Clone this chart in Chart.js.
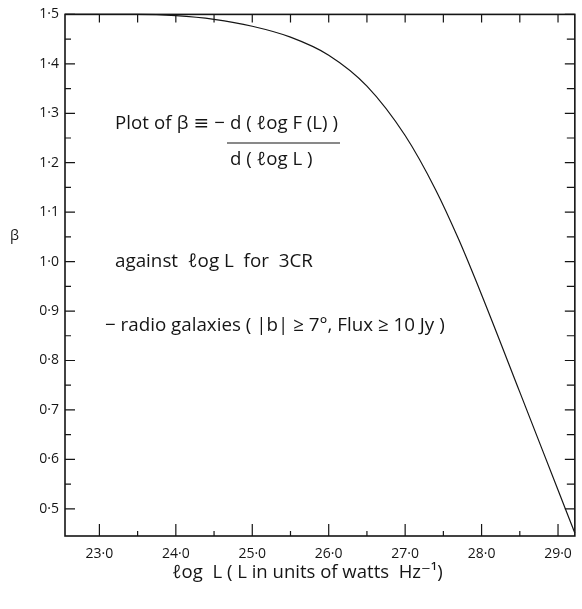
<!DOCTYPE html>
<html><head><meta charset="utf-8">
<script src="https://cdn.jsdelivr.net/npm/chart.js@4/dist/chart.umd.min.js"></script>
<style>html,body{margin:0;padding:0;background:#fff;}canvas{display:block;}</style>
</head><body>
<canvas id="c" width="582" height="609"></canvas>
<script>
// ---- data ----
const logL = [22.55, 23.0, 23.5, 24.0, 24.5, 25.0, 25.5, 26.0, 26.5, 27.0, 27.4, 27.7, 28.0, 28.5, 29.0, 29.22];
const beta = [1.5, 1.5, 1.5, 1.4975, 1.490, 1.476, 1.454, 1.4175, 1.355, 1.255, 1.145, 1.045, 0.933, 0.736, 0.538, 0.451];
const xMajorTicks = [23, 24, 25, 26, 27, 28, 29];
const xMinorTicks = [23.5, 24.5, 25.5, 26.5, 27.5, 28.5];
const xTopTicks = [23, 23.5, 24, 24.5, 25, 25.5, 26, 26.5, 27, 27.5, 28, 28.5, 29];
const yMajorTicks = [0.5, 0.6, 0.7, 0.8, 0.9, 1.0, 1.1, 1.2, 1.3, 1.4, 1.5];
const yMinorTicks = [0.55, 0.65, 0.75, 0.85, 0.95, 1.05, 1.15, 1.25, 1.35, 1.45];
const xRange = [22.55, 29.22];
const yRange = [0.445, 1.5];
const fmt = v => v.toFixed(1).replace('.', '\u00B7');

const FAMILY = '"Open Sans", "DejaVu Sans", sans-serif';
const INK = '#151515';

function fitText(ctx, text, left, cy, width, fixedSize) {
  let size = fixedSize;
  if (!size) {
    ctx.font = '100px ' + FAMILY;
    size = 100 * width / ctx.measureText(text).width;
  }
  ctx.font = size.toFixed(2) + 'px ' + FAMILY;
  ctx.textBaseline = 'middle';
  ctx.textAlign = 'left';
  ctx.fillText(text, left, cy);
  return size;
}
// words spread evenly over [left, right] at a given size
function spreadWords(ctx, words, left, right, cy, size) {
  ctx.font = size.toFixed(2) + 'px ' + FAMILY;
  ctx.textBaseline = 'middle';
  ctx.textAlign = 'left';
  const ws = words.map(w => ctx.measureText(w).width);
  const gap = (right - left - ws.reduce((s, v) => s + v, 0)) / (words.length - 1);
  let px = left;
  words.forEach((w, i) => { ctx.fillText(w, px, cy); px += ws[i] + gap; });
}

const framePlugin = {
  id: 'frame',
  afterDatasetsDraw(chart) {
    const { ctx, chartArea: a, scales: { x, y } } = chart;
    ctx.save();
    ctx.strokeStyle = INK;
    ctx.lineWidth = 1.6;
    ctx.strokeRect(a.left, a.top, a.right - a.left, a.bottom - a.top);
    ctx.lineWidth = 1.2;
    ctx.beginPath();
    xMajorTicks.forEach(v => { const p = x.getPixelForValue(v); ctx.moveTo(p, a.bottom); ctx.lineTo(p, a.bottom - 12); });
    xMinorTicks.forEach(v => { const p = x.getPixelForValue(v); ctx.moveTo(p, a.bottom); ctx.lineTo(p, a.bottom - 5); });
    xTopTicks.forEach(v => { const p = x.getPixelForValue(v); ctx.moveTo(p, a.top); ctx.lineTo(p, a.top + 8); });
    yMajorTicks.forEach(v => { const p = y.getPixelForValue(v); ctx.moveTo(a.left, p); ctx.lineTo(a.left + 10, p);
                                ctx.moveTo(a.right, p); ctx.lineTo(a.right - 10, p); });
    yMinorTicks.forEach(v => { const p = y.getPixelForValue(v); ctx.moveTo(a.left, p); ctx.lineTo(a.left + 6, p);
                                ctx.moveTo(a.right, p); ctx.lineTo(a.right - 8, p); });
    ctx.stroke();

    // annotation texts
    ctx.fillStyle = INK;
    const s2 = fitText(ctx, 'd ( \u2113og F (L) )', 230, 124, 108);
    spreadWords(ctx, ['Plot', 'of', '\u03B2', '\u2261', '\u2212'], 115, 225, 124, s2);
    ctx.lineWidth = 1.2;
    ctx.beginPath(); ctx.moveTo(227, 143); ctx.lineTo(340, 143); ctx.stroke();
    fitText(ctx, 'd ( \u2113og L )', 230, 160, 0, s2);
    fitText(ctx, 'against  \u2113og L  for  3CR', 115, 262, 198);
    fitText(ctx, '\u2212 radio galaxies ( |b| \u2265 7\u00B0, Flux \u2265 10 Jy )', 105, 326, 340);
    fitText(ctx, '\u03B2', 10, 236, 9);
    fitText(ctx, '\u2113og  L ( L in units of watts  Hz\u207B\u00B9)', 172, 573, 271);
    ctx.restore();
  }
};

new Chart(document.getElementById('c'), {
  type: 'scatter',
  data: {
    datasets: [{
      data: logL.map((v, i) => ({ x: v, y: beta[i] })),
      showLine: true,
      borderColor: INK,
      borderWidth: 1.2,
      pointRadius: 0,
      cubicInterpolationMode: 'monotone',
      clip: 4
    }]
  },
  options: {
    responsive: false,
    devicePixelRatio: 1,
    animation: false,
    layout: { padding: { top: 9, right: 4, left: 0, bottom: 0 } },
    plugins: { legend: { display: false }, tooltip: { enabled: false } },
    scales: {
      x: {
        type: 'linear', min: xRange[0], max: xRange[1],
        grid: { display: false, drawTicks: false },
        border: { display: false },
        afterBuildTicks: s => { s.ticks = xMajorTicks.map(value => ({ value })); },
        afterFit: s => { s.height = 73; },
        ticks: { autoSkip: false, maxRotation: 0, padding: 10, color: INK,
                 font: { family: FAMILY, size: 14 }, callback: v => fmt(v) }
      },
      y: {
        type: 'linear', min: yRange[0], max: yRange[1],
        grid: { display: false, drawTicks: false },
        border: { display: false },
        afterBuildTicks: s => { s.ticks = yMajorTicks.map(value => ({ value })); },
        afterFit: s => { s.width = 65; },
        ticks: { autoSkip: false, padding: 6, color: INK,
                 font: { family: FAMILY, size: 14 }, callback: v => fmt(v) }
      }
    }
  },
  plugins: [framePlugin]
});
</script>
</body></html>
